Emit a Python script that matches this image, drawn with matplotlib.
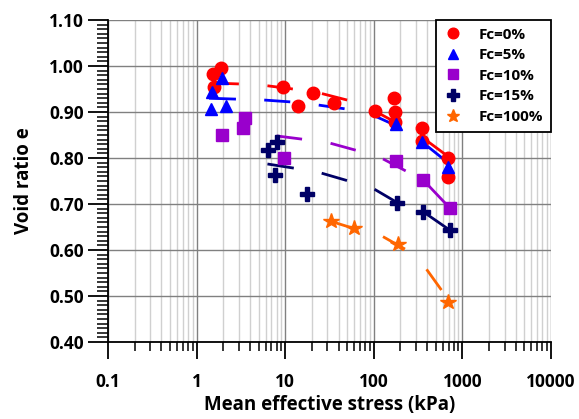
import numpy as np
import matplotlib.pyplot as plt
from matplotlib.ticker import LogLocator, FixedLocator, MultipleLocator, NullFormatter

plt.rcParams['font.family'] = ['Open Sans', 'DejaVu Sans']
plt.rcParams['font.weight'] = 'bold'

# --- data ---
labels = ['Fc=0%', 'Fc=5%', 'Fc=10%', 'Fc=15%', 'Fc=100%']
colors = ['#ff0000', '#0000ff', '#9900cc', '#000066', '#ff6600']
x_ticks = [0.1, 1, 10, 100, 1000, 10000]
x_ticklabels = ['0.1', '1', '10', '100', '1000', '10000']
y_ticks = [0.40, 0.50, 0.60, 0.70, 0.80, 0.90, 1.00, 1.10]

p_fc0 = [1.54, 1.91, 1.58, 9.5, 14.1, 20.7, 35.4, 102, 169, 172, 172, 346, 346, 693, 693]
e_fc0 = [0.982, 0.995, 0.955, 0.955, 0.912, 0.942, 0.919, 0.902, 0.931, 0.901, 0.879, 0.865, 0.838, 0.799, 0.759]
p_fc5 = [1.96, 1.51, 1.45, 2.17, 180, 346, 693]
e_fc5 = [0.973, 0.944, 0.906, 0.912, 0.873, 0.835, 0.781]
p_fc10 = [1.96, 3.30, 3.51, 9.6, 177, 362, 723]
e_fc10 = [0.850, 0.865, 0.888, 0.799, 0.793, 0.752, 0.691]
p_fc15 = [6.34, 8.0, 7.75, 17.5, 184, 362, 723]
e_fc15 = [0.817, 0.835, 0.763, 0.722, 0.703, 0.683, 0.643]
p_fc100 = [33.1, 59.2, 188, 693]
e_fc100 = [0.662, 0.647, 0.612, 0.488]

# trend segments: (p_start, p_end, e_start, e_end)
seg_fc0 = [(1.5, 3.0, 0.963, 0.961), (6.3, 12.2, 0.957, 0.950), (26, 50, 0.940, 0.926),
           (98, 171, 0.904, 0.879), (346, 693, 0.846, 0.803)]
seg_fc5 = [(1.38, 2.78, 0.930, 0.928), (5.8, 11.4, 0.926, 0.922), (23.9, 46.8, 0.915, 0.907),
           (98, 171, 0.893, 0.872), (330, 608, 0.839, 0.798)]
seg_fc10 = [(8.0, 15.5, 0.848, 0.841), (32.5, 62.5, 0.832, 0.817), (127, 229, 0.798, 0.772),
            (362, 723, 0.752, 0.691)]
seg_fc15 = [(6.3, 12.5, 0.787, 0.778), (25.8, 49.8, 0.767, 0.751), (102, 184, 0.732, 0.703),
            (362, 723, 0.683, 0.643)]
seg_fc100 = [(33.1, 59.2, 0.662, 0.647), (127, 225, 0.629, 0.602), (394, 580, 0.558, 0.513)]

series = [
    (p_fc0, e_fc0, seg_fc0, 'o', 9),
    (p_fc5, e_fc5, seg_fc5, '^', 9),
    (p_fc10, e_fc10, seg_fc10, 's', 8.5),
    (p_fc15, e_fc15, seg_fc15, 'P', 10),
    (p_fc100, e_fc100, seg_fc100, '*', 11.5),
]

fig = plt.figure(figsize=(5.79, 4.19), dpi=100)
ax = fig.add_axes([108 / 579, 1 - 342 / 419, (551 - 108) / 579, (342 - 20) / 419])

# segments first so markers sit on top
for (p, e, segs, m, ms), c in zip(series, colors):
    for p0, p1, e0, e1 in segs:
        ax.plot([p0, p1], [e0, e1], color=c, lw=2, solid_capstyle='butt', zorder=3)

handles = []
for (p, e, segs, m, ms), c, lab in zip(series, colors, labels):
    h, = ax.plot(p, e, linestyle='none', marker=m, ms=ms, color=c, mec=c, label=lab, zorder=4)
    handles.append(h)

ax.set_xscale('log')
ax.set_xlim(0.1, 10000)
ax.set_ylim(0.40, 1.10)

ax.xaxis.set_major_locator(FixedLocator(x_ticks))
ax.xaxis.set_minor_locator(LogLocator(base=10, subs=np.arange(2, 10)))
ax.xaxis.set_minor_formatter(NullFormatter())
ax.set_xticks(x_ticks, x_ticklabels)
ax.yaxis.set_major_locator(FixedLocator(y_ticks))
ax.yaxis.set_minor_locator(MultipleLocator(0.01))
ax.set_yticks(y_ticks, [f'{v:.2f}' for v in y_ticks])

ax.grid(which='major', color='#808080', lw=1)
ax.grid(which='minor', axis='x', color='#d0d0d0', lw=1)
ax.set_axisbelow(True)

for s in ['top', 'right']:
    ax.spines[s].set_visible(False)
for s in ['left', 'bottom']:
    ax.spines[s].set_linewidth(1.3)

ax.tick_params(which='major', direction='out', width=1.3, labelsize=12.5)
ax.tick_params(which='minor', direction='out', width=1.1)
ax.tick_params(axis='y', which='major', length=14.5, pad=3)
ax.tick_params(axis='y', which='minor', length=8)
ax.tick_params(axis='x', which='major', length=12, pad=10)
ax.tick_params(axis='x', which='minor', length=6.5)
for t in ax.get_xticklabels() + ax.get_yticklabels():
    t.set_fontweight('bold')

ax.set_xlabel('Mean effective stress (kPa)', fontsize=13.5, fontweight='bold', labelpad=3)
ax.set_ylabel('Void ratio e', fontsize=13.5, fontweight='bold', labelpad=11)

leg = ax.legend(handles=handles, loc='upper right', bbox_to_anchor=(1.0, 1.0), frameon=True,
                fancybox=False, edgecolor='black', framealpha=1,
                prop={'weight': 'bold', 'size': 11}, borderaxespad=0, handletextpad=1.1,
                handlelength=1.2, labelspacing=0.43, borderpad=0.5, markerscale=0.85)
leg.get_frame().set_linewidth(1.3)

fig.savefig('out.png', dpi=100)
